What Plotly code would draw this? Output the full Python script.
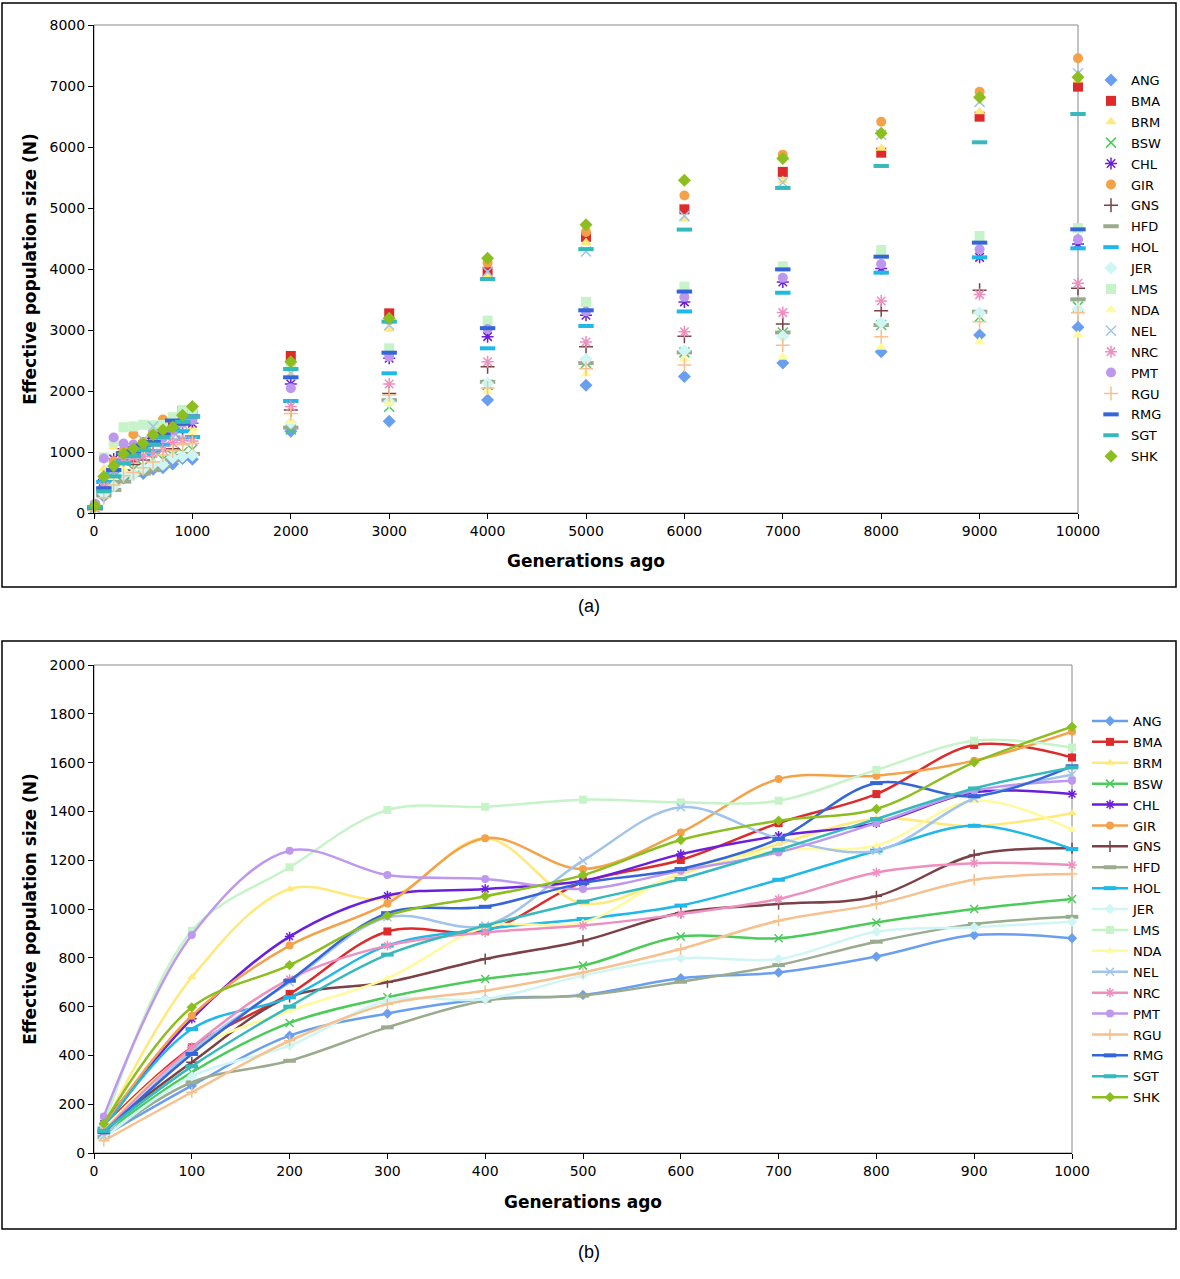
import plotly.graph_objects as go

# ---------------- data ----------------
BREEDS = ["ANG", "BMA", "BRM", "BSW", "CHL", "GIR", "GNS", "HFD", "HOL", "JER",
          "LMS", "NDA", "NEL", "NRC", "PMT", "RGU", "RMG", "SGT", "SHK"]

GEN_RECENT = [10, 100, 200, 300, 400, 500, 600, 700, 800, 900, 1000]
GEN_ANCIENT = [2000, 3000, 4000, 5000, 6000, 7000, 8000, 9000, 10000]

# effective population size at GEN_RECENT
ANG_recent = [70, 276, 481, 572, 631, 648, 716, 740, 805, 893, 880]
BMA_recent = [110, 433, 652, 908, 911, 1110, 1201, 1352, 1471, 1672, 1621]
BRM_recent = [110, 720, 1082, 1044, 1290, 1023, 1143, 1266, 1370, 1340, 1393]
BSW_recent = [80, 331, 533, 638, 713, 768, 887, 880, 945, 1000, 1041]
CHL_recent = [120, 550, 887, 1055, 1082, 1116, 1225, 1300, 1352, 1478, 1471]
GIR_recent = [110, 563, 850, 1023, 1290, 1164, 1314, 1533, 1546, 1608, 1727]
GNS_recent = [100, 372, 640, 700, 795, 870, 985, 1020, 1052, 1221, 1249]
HFD_recent = [65, 290, 378, 515, 624, 645, 702, 770, 866, 938, 968]
HOL_recent = [100, 508, 638, 850, 918, 959, 1014, 1120, 1239, 1341, 1246]
JER_recent = [60, 314, 440, 624, 631, 727, 798, 795, 907, 925, 948]
LMS_recent = [110, 911, 1171, 1406, 1419, 1448, 1437, 1444, 1570, 1690, 1662]
NDA_recent = [100, 420, 583, 716, 925, 945, 1150, 1240, 1260, 1444, 1325]
NEL_recent = [70, 420, 700, 966, 932, 1198, 1417, 1290, 1239, 1453, 1550]
NRC_recent = [90, 433, 713, 850, 904, 932, 979, 1041, 1150, 1188, 1180]
PMT_recent = [150, 893, 1239, 1139, 1123, 1082, 1157, 1232, 1352, 1485, 1526]
RGU_recent = [50, 249, 460, 610, 665, 740, 836, 952, 1020, 1120, 1143]
RMG_recent = [85, 406, 706, 983, 1009, 1107, 1164, 1287, 1516, 1462, 1585]
SGT_recent = [90, 355, 600, 813, 932, 1030, 1123, 1243, 1369, 1494, 1580]
SHK_recent = [120, 597, 770, 973, 1052, 1139, 1283, 1362, 1410, 1601, 1747]

# effective population size at GEN_ANCIENT
ANG_ancient = [1340, 1503, 1852, 2094, 2238, 2458, 2645, 2918, 3044]
BMA_ancient = [2574, 3273, 3956, 4527, 4978, 5592, 5907, 6497, 6989]
BRM_ancient = [2270, 3011, 3900, 4433, 4821, 5450, 5978, 6579, 7100]
BSW_ancient = [1370, 1743, 2100, 2458, 2633, 2959, 3082, 3218, 3383]
CHL_ancient = [2115, 2536, 2891, 3241, 3461, 3787, 4010, 4191, 4410]
GIR_ancient = [2443, 3160, 4104, 4608, 5204, 5875, 6415, 6907, 7454]
GNS_ancient = [1690, 1960, 2399, 2727, 2897, 3097, 3317, 3650, 3683]
HFD_ancient = [1400, 1850, 2150, 2458, 2633, 2959, 3082, 3300, 3503]
HOL_ancient = [1836, 2290, 2700, 3066, 3304, 3611, 3940, 4191, 4339]
JER_ancient = [1480, 1825, 2126, 2520, 2658, 2897, 3120, 3284, 3339]
LMS_ancient = [2400, 2699, 3153, 3461, 3712, 4044, 4311, 4541, 4670]
NDA_ancient = [1500, 1800, 1989, 2282, 2520, 2552, 2716, 2809, 2918]
NEL_ancient = [2290, 3082, 3956, 4288, 4871, 5417, 6200, 6740, 7208]
NRC_ancient = [1745, 2115, 2481, 2802, 2972, 3285, 3475, 3580, 3765]
PMT_ancient = [2044, 2563, 3016, 3304, 3542, 3856, 4082, 4322, 4486]
RGU_ancient = [1630, 1934, 2050, 2364, 2426, 2752, 2891, 3137, 3284]
RMG_ancient = [2224, 2628, 3030, 3323, 3630, 3994, 4202, 4432, 4650]
SGT_ancient = [2361, 3137, 3836, 4326, 4646, 5329, 5689, 6077, 6541]
SHK_ancient = [2480, 3191, 4175, 4727, 5455, 5812, 6224, 6814, 7142]

RECENT = {b: globals()[b + "_recent"] for b in BREEDS}
ANCIENT = {b: globals()[b + "_ancient"] for b in BREEDS}

# ---------------- styles ----------------
COLORS = {
    "ANG": "#6A9FEF", "BMA": "#DD2A2A", "BRM": "#FFE97A", "BSW": "#4CCB5A",
    "CHL": "#6A1FDC", "GIR": "#F4A24A", "GNS": "#7A4146", "HFD": "#9AAB8E",
    "HOL": "#1FB8E8", "JER": "#CFF6F4", "LMS": "#C6F3C8", "NDA": "#FFFA9E",
    "NEL": "#A2C3EA", "NRC": "#EE8FBF", "PMT": "#BE98EE", "RGU": "#F6C18F",
    "RMG": "#3466D8", "SGT": "#35B9BC", "SHK": "#8BBE1E",
}
SYMBOLS = {
    "ANG": "diamond", "BMA": "square", "BRM": "triangle-up", "BSW": "x-thin-open",
    "CHL": "asterisk-open", "GIR": "circle", "GNS": "cross-thin-open", "HFD": "line-ew-open",
    "HOL": "line-ew-open", "JER": "diamond", "LMS": "square", "NDA": "triangle-up",
    "NEL": "x-thin-open", "NRC": "asterisk-open", "PMT": "circle", "RGU": "cross-thin-open",
    "RMG": "line-ew-open", "SGT": "line-ew-open", "SHK": "diamond",
}
OPEN_W = {"x-thin-open": 1.5, "asterisk-open": 1.5, "cross-thin-open": 1.5, "line-ew-open": 4}

FONT = "DejaVu Sans, Verdana, sans-serif"
W, H = 1180, 1279


def px_x(p):
    return p / W


def px_y(p):
    return 1 - p / H


fig = go.Figure()

for b in BREEDS:
    sym = SYMBOLS[b]
    lw = OPEN_W.get(sym, 0)
    size_a = 10 if sym != "line-ew-open" else 11
    size_b = 8 if sym != "line-ew-open" else 9
    # panel (a): scatter
    fig.add_trace(go.Scatter(
        x=GEN_RECENT + GEN_ANCIENT, y=RECENT[b] + ANCIENT[b], mode="markers", name=b,
        xaxis="x", yaxis="y", legend="legend", legendgroup="a_" + b, cliponaxis=False,
        marker=dict(symbol=sym, size=size_a, color=COLORS[b],
                    line=dict(width=lw, color=COLORS[b])),
    ))
    # panel (b): smoothed lines
    fig.add_trace(go.Scatter(
        x=GEN_RECENT, y=RECENT[b], mode="lines+markers", name=b,
        xaxis="x2", yaxis="y2", legend="legend2", legendgroup="b_" + b, cliponaxis=False,
        line=dict(color=COLORS[b], width=2.5, shape="spline", smoothing=1),
        marker=dict(symbol=sym, size=size_b, color=COLORS[b],
                    line=dict(width=lw, color=COLORS[b])),
    ))

axis_common = dict(showgrid=False, zeroline=False, showline=True, linecolor="black",
                   linewidth=1, ticks="outside", ticklen=5, tickcolor="black",
                   tickformat="d", automargin=False,
                   tickfont=dict(family=FONT, size=14, color="black"))
title_font = dict(family=FONT, size=17, color="black", weight="bold")

fig.update_layout(
    width=W, height=H, paper_bgcolor="white", plot_bgcolor="white",
    margin=dict(l=0, r=0, t=0, b=0, autoexpand=False), showlegend=True,
    font=dict(family=FONT, color="black"),
    xaxis=dict(domain=[px_x(94), px_x(1078)], anchor="y", range=[0, 10000],
               tickvals=list(range(0, 10001, 1000)),
               title=dict(text="Generations ago", font=title_font, standoff=17),
               **axis_common),
    yaxis=dict(domain=[px_y(513), px_y(25)], anchor="x", range=[0, 8000],
               tickvals=list(range(0, 8001, 1000)),
               title=dict(text="Effective population size (N)", font=title_font, standoff=8),
               **axis_common),
    xaxis2=dict(domain=[px_x(94), px_x(1072)], anchor="y2", range=[0, 1000],
                tickvals=list(range(0, 1001, 100)),
                title=dict(text="Generations ago", font=title_font, standoff=18),
                **axis_common),
    yaxis2=dict(domain=[px_y(1153), px_y(665)], anchor="x2", range=[0, 2000],
                tickvals=list(range(0, 2001, 200)),
                title=dict(text="Effective population size (N)", font=title_font, standoff=8),
                **axis_common),
    legend=dict(x=px_x(1091), y=px_y(65), xanchor="left", yanchor="top",
                font=dict(family=FONT, size=13, color="black"), bgcolor="rgba(0,0,0,0)",
                itemwidth=30, tracegroupgap=1),
    legend2=dict(x=px_x(1087), y=px_y(706), xanchor="left", yanchor="top",
                 font=dict(family=FONT, size=13, color="black"), bgcolor="rgba(0,0,0,0)",
                 itemwidth=36, tracegroupgap=1),
    shapes=[
        dict(type="rect", xref="x domain", yref="y domain", x0=0, x1=1, y0=0, y1=1,
             line=dict(color="#888888", width=1), layer="below"),
        dict(type="rect", xref="x2 domain", yref="y2 domain", x0=0, x1=1, y0=0, y1=1,
             line=dict(color="#888888", width=1), layer="below"),
        dict(type="rect", xref="paper", yref="paper", x0=px_x(2), x1=px_x(1176),
             y0=px_y(587), y1=px_y(3), line=dict(color="black", width=1.5)),
        dict(type="rect", xref="paper", yref="paper", x0=px_x(2), x1=px_x(1176),
             y0=px_y(1229), y1=px_y(641), line=dict(color="black", width=1.5)),
    ],
    annotations=[
        dict(text="(a)", xref="paper", yref="paper", x=px_x(589), y=px_y(606),
             xanchor="center", yanchor="middle", showarrow=False,
             font=dict(family="Liberation Sans, Arial", size=18, color="black")),
        dict(text="(b)", xref="paper", yref="paper", x=px_x(589), y=px_y(1252),
             xanchor="center", yanchor="middle", showarrow=False,
             font=dict(family="Liberation Sans, Arial", size=18, color="black")),
    ],
)

fig.write_html(
    "out.html",
    config={"displayModeBar": False},
    post_script="document.body.style.margin='0';document.body.style.padding='0';"
                "document.documentElement.style.overflow='hidden';"
                "document.body.style.overflow='hidden';",
)
